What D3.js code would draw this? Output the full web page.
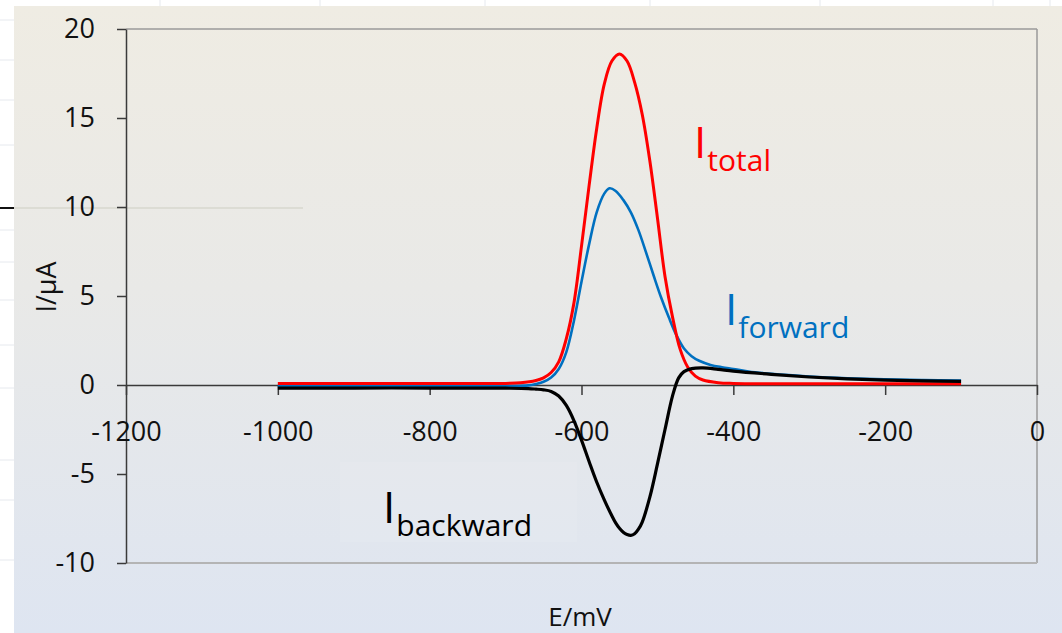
<!DOCTYPE html>
<html>
<head>
<meta charset="utf-8">
<script src="https://cdn.jsdelivr.net/npm/d3@7/dist/d3.min.js"></script>
<style>
  html, body { margin: 0; padding: 0; background: #fff; }
  svg { display: block; font-family: "Open Sans", "Noto Sans", sans-serif; }
</style>
</head>
<body>
<svg id="chart"></svg>
<script>

// potential (mV) and currents (µA)
var E_total = [-1000, -900, -800, -700, -680, -660, -650, -640, -630, -620, -610, -600, -590, -580, -570, -560, -550, -540, -530, -520, -510, -500, -490, -480, -470, -460, -450, -440, -420, -400, -300, -200, -100];
var I_total = [0.08, 0.08, 0.08, 0.09, 0.12, 0.25, 0.4, 0.7, 1.3, 2.6, 4.6, 7.8, 11.2, 14.4, 16.9, 18.2, 18.6, 18.2, 17.0, 15.2, 12.6, 9.4, 6.1, 3.8, 2.0, 1.0, 0.5, 0.28, 0.13, 0.09, 0.07, 0.07, 0.07];

var E_forward = [-1000, -900, -800, -700, -670, -660, -650, -640, -630, -620, -610, -600, -590, -580, -570, -563, -555, -545, -535, -525, -515, -505, -495, -485, -475, -465, -455, -445, -430, -415, -400, -380, -350, -300, -250, -200, -150, -100];
var I_forward = [-0.06, -0.06, -0.06, -0.05, -0.02, 0.06, 0.18, 0.42, 0.9, 1.85, 3.6, 5.8, 7.9, 9.7, 10.75, 11.05, 10.9, 10.4, 9.7, 8.7, 7.45, 6.15, 4.9, 3.8, 2.8, 2.05, 1.62, 1.36, 1.13, 1.0, 0.9, 0.76, 0.63, 0.48, 0.38, 0.32, 0.28, 0.25];

var E_backward = [-1000, -900, -800, -700, -670, -660, -650, -640, -630, -620, -610, -600, -590, -580, -570, -560, -555, -550, -545, -540, -535, -530, -525, -520, -510, -500, -490, -480, -472, -465, -455, -440, -420, -400, -350, -300, -250, -200, -150, -100];
var I_backward = [-0.17, -0.17, -0.17, -0.18, -0.2, -0.23, -0.27, -0.36, -0.62, -1.15, -2.0, -3.1, -4.3, -5.45, -6.45, -7.35, -7.75, -8.05, -8.27, -8.4, -8.45, -8.36, -8.1, -7.7, -6.3, -4.45, -2.5, -0.6, 0.4, 0.75, 0.92, 0.96, 0.88, 0.78, 0.6, 0.45, 0.34, 0.27, 0.23, 0.2];

var x_ticks = [-1200, -1000, -800, -600, -400, -200, 0];
var y_ticks = [-10, -5, 0, 5, 10, 15, 20];

var series = [
    { name: "total", E: E_total, I: I_total, color: "#ff0000", width: 3 },
    { name: "forward", E: E_forward, I: I_forward, color: "#0070c0", width: 2.6 },
    { name: "backward", E: E_backward, I: I_backward, color: "#000000", width: 3.2 }
];

var labels = [
    { sub: "total", x: 694, y: 158, color: "#ff0000" },
    { sub: "forward", x: 725, y: 325, color: "#0070c0" },
    { sub: "backward", x: 383, y: 523, color: "#000000" }
];

var W = 1062, H = 633;
var plot = { left: 126, right: 1037, top: 29, bottom: 563 };

var svg = d3.select("#chart")
        .attr("width", W)
        .attr("height", H);

// slide background with faint grid
svg.append("rect")
    .attr("width", W).attr("height", H)
    .attr("fill", "#ffffff");

var grid = svg.append("g").attr("stroke", "#e6e9ee").attr("stroke-width", 1);
[20, 60, 100, 145, 230, 262, 300, 345, 388, 460, 500, 560].forEach(function (gy) {
    grid.append("line").attr("x1", 0).attr("x2", 14).attr("y1", gy).attr("y2", gy);
});
[160, 320, 485, 650, 820, 993, 1050].forEach(function (gx) {
    grid.append("line").attr("x1", gx).attr("x2", gx).attr("y1", 0).attr("y2", 6);
});

var defs = svg.append("defs");
var grad = defs.append("linearGradient")
        .attr("id", "bg")
        .attr("x1", 0).attr("y1", 0).attr("x2", 0).attr("y2", 1);
grad.append("stop").attr("offset", "0%").attr("stop-color", "#efece3");
grad.append("stop").attr("offset", "45%").attr("stop-color", "#e9e9e7");
grad.append("stop").attr("offset", "100%").attr("stop-color", "#dee5f1");

svg.append("rect")
    .attr("x", 14).attr("y", 6)
    .attr("width", W - 14).attr("height", H - 6)
    .attr("fill", "url(#bg)");

// leftover slide line on the left
svg.append("line")
    .attr("x1", 14).attr("x2", 303).attr("y1", 208).attr("y2", 208)
    .attr("stroke", "#dcdcd4").attr("stroke-width", 2);
svg.append("line")
    .attr("x1", 0).attr("x2", 14).attr("y1", 208).attr("y2", 208)
    .attr("stroke", "#111").attr("stroke-width", 2);

// faint text box behind the backward label
svg.append("rect")
    .attr("x", 340).attr("y", 462)
    .attr("width", 237).attr("height", 80)
    .attr("fill", "#ffffff").attr("opacity", 0.08);

var xScale = d3.scaleLinear()
        .domain([-1200, 0])
        .range([plot.left, plot.right]);

var yScale = d3.scaleLinear()
        .domain([-10, 20])
        .range([plot.bottom, plot.top]);

// plot frame
svg.append("line")
    .attr("x1", plot.left).attr("x2", plot.right)
    .attr("y1", plot.top).attr("y2", plot.top)
    .attr("stroke", "#9a9a9a").attr("stroke-width", 1.5);
svg.append("line")
    .attr("x1", plot.right).attr("x2", plot.right)
    .attr("y1", plot.top).attr("y2", plot.bottom)
    .attr("stroke", "#9a9a9a").attr("stroke-width", 1.5);
svg.append("line")
    .attr("x1", plot.left).attr("x2", plot.right)
    .attr("y1", plot.bottom).attr("y2", plot.bottom)
    .attr("stroke", "#b4b4b4").attr("stroke-width", 2);

var plain = function (d) { return String(d); };

var yAxis = d3.axisLeft(yScale)
        .tickValues(y_ticks)
        .tickFormat(plain)
        .tickSize(9)
        .tickSizeOuter(0)
        .tickPadding(22);

var xAxis = d3.axisBottom(xScale)
        .tickValues(x_ticks)
        .tickFormat(plain)
        .tickSize(10)
        .tickSizeOuter(0)
        .tickPadding(27);

var gy = svg.append("g")
        .attr("transform", "translate(" + plot.left + ",0)")
        .call(yAxis);

var gx = svg.append("g")
        .attr("transform", "translate(0," + yScale(0) + ")")
        .call(xAxis);

[gx, gy].forEach(function (g) {
    g.select(".domain").attr("stroke", "#3a3a3a").attr("stroke-width", 1.5);
    g.selectAll(".tick line").attr("stroke", "#3a3a3a").attr("stroke-width", 1.5);
    g.selectAll(".tick text")
        .attr("fill", "#111")
        .style("font-size", "27px")
        .style("font-family", "'Open Sans', sans-serif");
});

var line = d3.line()
        .x(function (d) { return xScale(d[0]); })
        .y(function (d) { return yScale(d[1]); })
        .curve(d3.curveCatmullRom.alpha(0.5));

// draw order: forward, total, backward on top
[series[1], series[0], series[2]].forEach(function (s) {
    svg.append("path")
        .datum(d3.zip(s.E, s.I))
        .attr("fill", "none")
        .attr("stroke", s.color)
        .attr("stroke-width", s.width)
        .attr("stroke-linejoin", "round")
        .attr("d", line);
});

// curve labels
labels.forEach(function (l) {
    var t = svg.append("text")
        .attr("x", l.x)
        .attr("y", l.y)
        .attr("fill", l.color);
    t.append("tspan")
        .style("font-size", "44px")
        .text("I");
    t.append("tspan")
        .attr("dy", 13)
        .attr("dx", 1)
        .style("font-size", "30px")
        .text(l.sub);
});

// axis titles
svg.append("text")
    .attr("transform", "translate(56,287) rotate(-90)")
    .attr("text-anchor", "middle")
    .attr("fill", "#111")
    .style("font-size", "27px")
    .text("I/µA");

svg.append("text")
    .attr("x", 580)
    .attr("y", 626)
    .attr("text-anchor", "middle")
    .attr("fill", "#111")
    .style("font-size", "26px")
    .text("E/mV");

</script>
</body>
</html>
